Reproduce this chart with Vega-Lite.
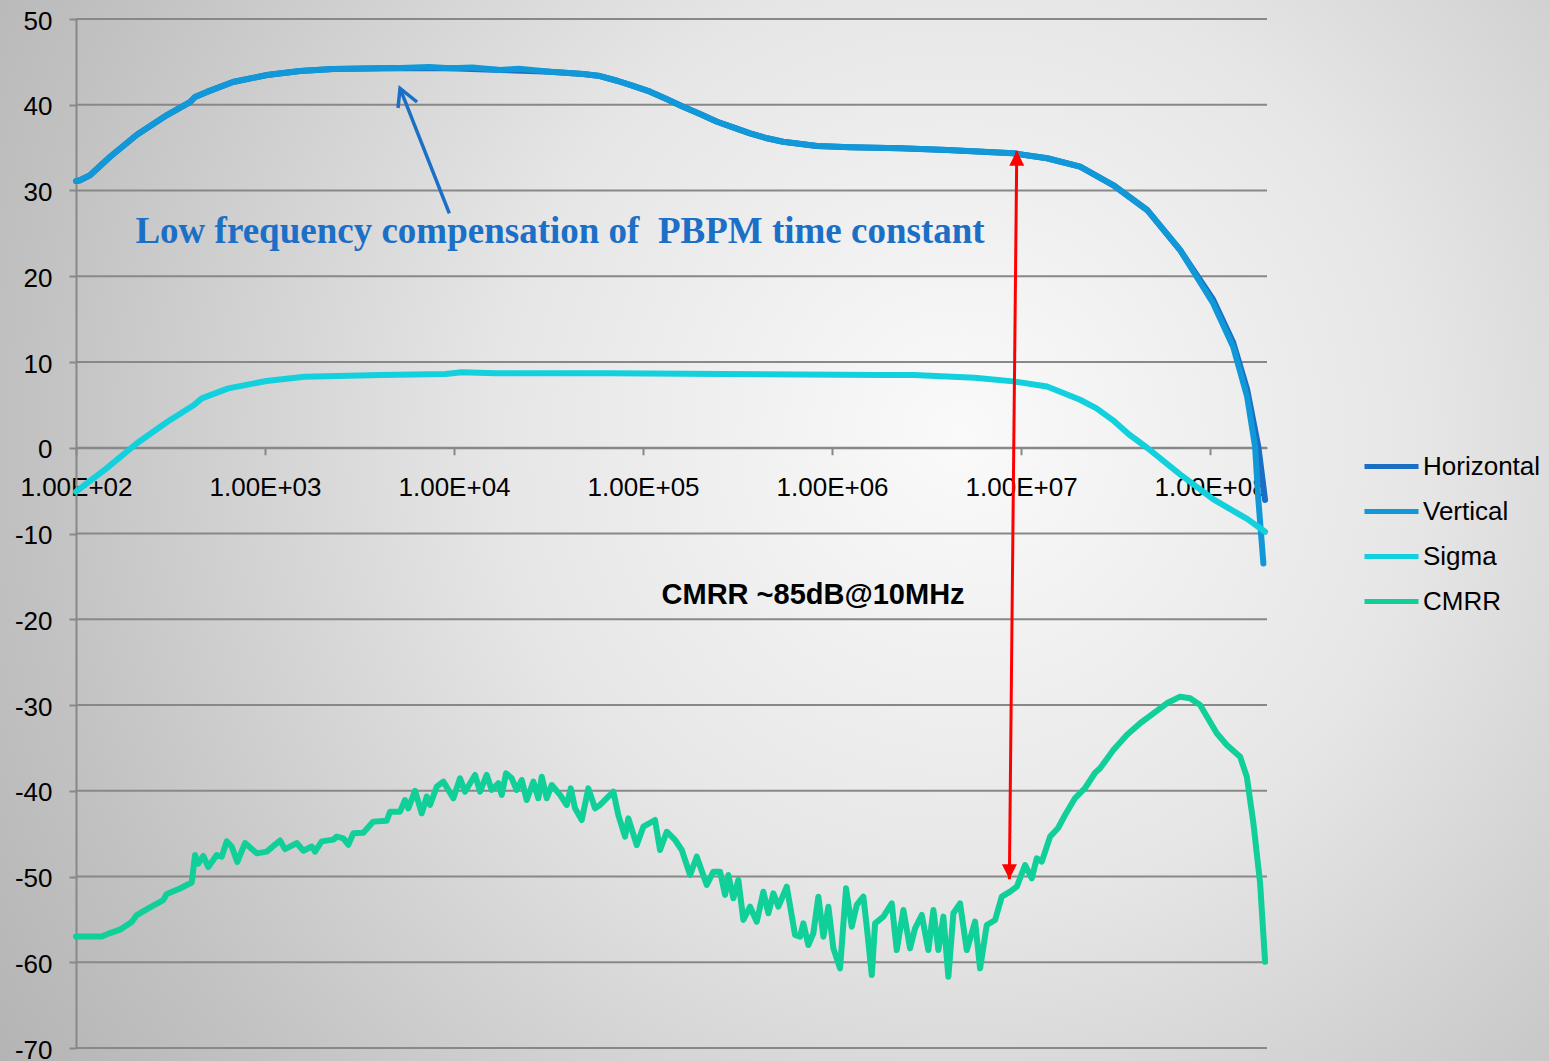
{
 "$schema": "https://vega.github.io/schema/vega-lite/v6.json",
 "width": 1549,
 "height": 1061,
 "autosize": {"type": "none"},
 "padding": 0,
 "background": "#bdbdbd",
 "config": {
  "view": {"stroke": null, "fill": {"gradient": "radial", "x1": 0.62, "y1": 0.44, "r1": 0, "x2": 0.62, "y2": 0.44, "r2": 1, "stops": [{"offset": 0, "color": "#fafafa"}, {"offset": 0.3, "color": "#e6e6e6"}, {"offset": 0.6, "color": "#c2c2c2"}, {"offset": 0.85, "color": "#a9a9a9"}]}},
  "font": "Liberation Sans"
 },
 "datasets": {
  "grid": [{"v": -70}, {"v": -60}, {"v": -50}, {"v": -40}, {"v": -30}, {"v": -20}, {"v": -10}, {"v": 0}, {"v": 10}, {"v": 20}, {"v": 30}, {"v": 40}, {"v": 50}],
  "curves": [
   {"s":"Horizontal","f":100,"v":31.1},{"s":"Horizontal","f":105,"v":31.2},{"s":"Horizontal","f":119,"v":31.8},{"s":"Horizontal","f":151,"v":33.9},{"s":"Horizontal","f":210,"v":36.5},{"s":"Horizontal","f":303,"v":38.8},{"s":"Horizontal","f":401,"v":40.3},{"s":"Horizontal","f":426,"v":40.9},{"s":"Horizontal","f":493,"v":41.5},{"s":"Horizontal","f":677,"v":42.65},{"s":"Horizontal","f":1025,"v":43.47},{"s":"Horizontal","f":1532,"v":43.94},{"s":"Horizontal","f":2290,"v":44.17},{"s":"Horizontal","f":5180,"v":44.29},{"s":"Horizontal","f":9524,"v":44.25},{"s":"Horizontal","f":17510,"v":44.05},{"s":"Horizontal","f":32200,"v":43.85},{"s":"Horizontal","f":48140,"v":43.59},{"s":"Horizontal","f":59230,"v":43.35},{"s":"Horizontal","f":72860,"v":42.8},{"s":"Horizontal","f":88540,"v":42.19},{"s":"Horizontal","f":108900,"v":41.52},{"s":"Horizontal","f":134000,"v":40.64},{"s":"Horizontal","f":162800,"v":39.77},{"s":"Horizontal","f":200300,"v":38.92},{"s":"Horizontal","f":246300,"v":38.02},{"s":"Horizontal","f":299400,"v":37.37},{"s":"Horizontal","f":368300,"v":36.67},{"s":"Horizontal","f":453100,"v":36.09},{"s":"Horizontal","f":550500,"v":35.69},{"s":"Horizontal","f":832800,"v":35.19},{"s":"Horizontal","f":1245000,"v":35.04},{"s":"Horizontal","f":2290000,"v":34.92},{"s":"Horizontal","f":4059000,"v":34.72},{"s":"Horizontal","f":9073000,"v":34.34},{"s":"Horizontal","f":13730000,"v":33.76},{"s":"Horizontal","f":20520000,"v":32.78},{"s":"Horizontal","f":30680000,"v":30.64},{"s":"Horizontal","f":46420000,"v":27.73},{"s":"Horizontal","f":69380000,"v":23.06},{"s":"Horizontal","f":103700000,"v":17.3},{"s":"Horizontal","f":132400000,"v":12.3},{"s":"Horizontal","f":157000000,"v":6.8},{"s":"Horizontal","f":180000000,"v":0.12},{"s":"Horizontal","f":195400000,"v":-6.1},
   {"s":"Vertical","f":100,"v":31.1},{"s":"Vertical","f":105,"v":31.2},{"s":"Vertical","f":119,"v":31.8},{"s":"Vertical","f":151,"v":33.9},{"s":"Vertical","f":210,"v":36.5},{"s":"Vertical","f":303,"v":38.8},{"s":"Vertical","f":401,"v":40.3},{"s":"Vertical","f":426,"v":40.9},{"s":"Vertical","f":493,"v":41.5},{"s":"Vertical","f":677,"v":42.65},{"s":"Vertical","f":1025,"v":43.47},{"s":"Vertical","f":1532,"v":43.94},{"s":"Vertical","f":2290,"v":44.17},{"s":"Vertical","f":5180,"v":44.29},{"s":"Vertical","f":7400,"v":44.4},{"s":"Vertical","f":9524,"v":44.25},{"s":"Vertical","f":12500,"v":44.35},{"s":"Vertical","f":17510,"v":44.05},{"s":"Vertical","f":22000,"v":44.2},{"s":"Vertical","f":32200,"v":43.85},{"s":"Vertical","f":48140,"v":43.59},{"s":"Vertical","f":59230,"v":43.35},{"s":"Vertical","f":72860,"v":42.8},{"s":"Vertical","f":88540,"v":42.19},{"s":"Vertical","f":108900,"v":41.52},{"s":"Vertical","f":134000,"v":40.64},{"s":"Vertical","f":162800,"v":39.77},{"s":"Vertical","f":200300,"v":38.92},{"s":"Vertical","f":246300,"v":38.02},{"s":"Vertical","f":299400,"v":37.37},{"s":"Vertical","f":368300,"v":36.67},{"s":"Vertical","f":453100,"v":36.09},{"s":"Vertical","f":550500,"v":35.69},{"s":"Vertical","f":832800,"v":35.19},{"s":"Vertical","f":1245000,"v":35.04},{"s":"Vertical","f":2290000,"v":34.92},{"s":"Vertical","f":4059000,"v":34.72},{"s":"Vertical","f":9073000,"v":34.34},{"s":"Vertical","f":13730000,"v":33.76},{"s":"Vertical","f":20520000,"v":32.78},{"s":"Vertical","f":30680000,"v":30.64},{"s":"Vertical","f":46420000,"v":27.73},{"s":"Vertical","f":69380000,"v":23.06},{"s":"Vertical","f":103700000,"v":16.85},{"s":"Vertical","f":132400000,"v":11.78},{"s":"Vertical","f":157000000,"v":5.95},{"s":"Vertical","f":173000000,"v":0.12},{"s":"Vertical","f":179500000,"v":-5.7},{"s":"Vertical","f":191400000,"v":-13.5},
   {"s":"Sigma","f":100,"v":-5.12},{"s":"Sigma","f":145,"v":-2.4},{"s":"Sigma","f":210,"v":0.52},{"s":"Sigma","f":304.5,"v":3.04},{"s":"Sigma","f":421,"v":4.99},{"s":"Sigma","f":462.6,"v":5.76},{"s":"Sigma","f":639.5,"v":6.93},{"s":"Sigma","f":1017,"v":7.78},{"s":"Sigma","f":1618,"v":8.29},{"s":"Sigma","f":4089,"v":8.48},{"s":"Sigma","f":9000,"v":8.6},{"s":"Sigma","f":11000,"v":8.8},{"s":"Sigma","f":16460,"v":8.68},{"s":"Sigma","f":66100,"v":8.68},{"s":"Sigma","f":423600,"v":8.57},{"s":"Sigma","f":1795000,"v":8.48},{"s":"Sigma","f":2709000,"v":8.48},{"s":"Sigma","f":5689000,"v":8.17},{"s":"Sigma","f":9073000,"v":7.74},{"s":"Sigma","f":13730000,"v":7.15},{"s":"Sigma","f":20520000,"v":5.6},{"s":"Sigma","f":25080000,"v":4.6},{"s":"Sigma","f":30680000,"v":3.2},{"s":"Sigma","f":37000000,"v":1.6},{"s":"Sigma","f":46420000,"v":0.0},{"s":"Sigma","f":69380000,"v":-3.1},{"s":"Sigma","f":103700000,"v":-6.0},{"s":"Sigma","f":157000000,"v":-8.3},{"s":"Sigma","f":195400000,"v":-9.79},
   {"s":"CMRR","f":100,"v":-57.0},{"s":"CMRR","f":136.8,"v":-57.0},{"s":"CMRR","f":151.3,"v":-56.6},{"s":"CMRR","f":170.9,"v":-56.2},{"s":"CMRR","f":197.1,"v":-55.3},{"s":"CMRR","f":209.5,"v":-54.5},{"s":"CMRR","f":246.4,"v":-53.6},{"s":"CMRR","f":289.6,"v":-52.75},{"s":"CMRR","f":301.9,"v":-52.05},{"s":"CMRR","f":355,"v":-51.4},{"s":"CMRR","f":409.5,"v":-50.7},{"s":"CMRR","f":426.3,"v":-47.5},{"s":"CMRR","f":443.8,"v":-48.5},{"s":"CMRR","f":471.6,"v":-47.6},{"s":"CMRR","f":501.2,"v":-48.9},{"s":"CMRR","f":555.2,"v":-47.5},{"s":"CMRR","f":590.1,"v":-47.7},{"s":"CMRR","f":627.2,"v":-45.9},{"s":"CMRR","f":666.5,"v":-46.5},{"s":"CMRR","f":713.6,"v":-48.3},{"s":"CMRR","f":784,"v":-46.1},{"s":"CMRR","f":904,"v":-47.3},{"s":"CMRR","f":1021,"v":-47.1},{"s":"CMRR","f":1200,"v":-45.8},{"s":"CMRR","f":1276,"v":-46.8},{"s":"CMRR","f":1472,"v":-46.1},{"s":"CMRR","f":1595,"v":-47.0},{"s":"CMRR","f":1767,"v":-46.5},{"s":"CMRR","f":1839,"v":-47.1},{"s":"CMRR","f":1995,"v":-45.9},{"s":"CMRR","f":2298,"v":-45.7},{"s":"CMRR","f":2396,"v":-45.35},{"s":"CMRR","f":2597,"v":-45.55},{"s":"CMRR","f":2758,"v":-46.3},{"s":"CMRR","f":2933,"v":-44.96},{"s":"CMRR","f":3313,"v":-44.9},{"s":"CMRR","f":3741,"v":-43.6},{"s":"CMRR","f":4405,"v":-43.5},{"s":"CMRR","f":4586,"v":-42.44},{"s":"CMRR","f":5180,"v":-42.44},{"s":"CMRR","f":5504,"v":-41.08},{"s":"CMRR","f":5730,"v":-42.05},{"s":"CMRR","f":6219,"v":-40.0},{"s":"CMRR","f":6747,"v":-42.63},{"s":"CMRR","f":7171,"v":-40.69},{"s":"CMRR","f":7465,"v":-41.66},{"s":"CMRR","f":8100,"v":-39.53},{"s":"CMRR","f":8779,"v":-38.94},{"s":"CMRR","f":9915,"v":-40.88},{"s":"CMRR","f":10760,"v":-38.55},{"s":"CMRR","f":11430,"v":-40.11},{"s":"CMRR","f":12920,"v":-38.16},{"s":"CMRR","f":13730,"v":-40.11},{"s":"CMRR","f":14890,"v":-38.16},{"s":"CMRR","f":15830,"v":-39.91},{"s":"CMRR","f":17160,"v":-39.13},{"s":"CMRR","f":17880,"v":-40.49},{"s":"CMRR","f":18840,"v":-37.97},{"s":"CMRR","f":20200,"v":-38.55},{"s":"CMRR","f":21460,"v":-39.91},{"s":"CMRR","f":22810,"v":-38.75},{"s":"CMRR","f":24240,"v":-41.08},{"s":"CMRR","f":26280,"v":-38.94},{"s":"CMRR","f":27930,"v":-40.88},{"s":"CMRR","f":29110,"v":-38.36},{"s":"CMRR","f":30940,"v":-40.88},{"s":"CMRR","f":32880,"v":-39.33},{"s":"CMRR","f":36380,"v":-40.49},{"s":"CMRR","f":39480,"v":-41.66},{"s":"CMRR","f":41450,"v":-39.72},{"s":"CMRR","f":43680,"v":-42.05},{"s":"CMRR","f":47390,"v":-43.41},{"s":"CMRR","f":51350,"v":-39.72},{"s":"CMRR","f":55720,"v":-42.05},{"s":"CMRR","f":59220,"v":-41.66},{"s":"CMRR","f":69660,"v":-40.11},{"s":"CMRR","f":74030,"v":-42.83},{"s":"CMRR","f":80310,"v":-45.35},{"s":"CMRR","f":83600,"v":-43.22},{"s":"CMRR","f":92610,"v":-46.33},{"s":"CMRR","f":100400,"v":-44.19},{"s":"CMRR","f":115700,"v":-43.41},{"s":"CMRR","f":123000,"v":-46.91},{"s":"CMRR","f":133500,"v":-44.78},{"s":"CMRR","f":147700,"v":-45.74},{"s":"CMRR","f":160300,"v":-46.91},{"s":"CMRR","f":177400,"v":-49.83},{"s":"CMRR","f":192400,"v":-47.69},{"s":"CMRR","f":217300,"v":-50.99},{"s":"CMRR","f":235500,"v":-49.44},{"s":"CMRR","f":255500,"v":-49.44},{"s":"CMRR","f":271600,"v":-52.15},{"s":"CMRR","f":282700,"v":-49.83},{"s":"CMRR","f":300500,"v":-52.54},{"s":"CMRR","f":319300,"v":-50.41},{"s":"CMRR","f":339400,"v":-55.07},{"s":"CMRR","f":368300,"v":-53.52},{"s":"CMRR","f":399600,"v":-55.27},{"s":"CMRR","f":433000,"v":-51.77},{"s":"CMRR","f":460300,"v":-54.29},{"s":"CMRR","f":489100,"v":-51.96},{"s":"CMRR","f":519900,"v":-53.52},{"s":"CMRR","f":575900,"v":-51.19},{"s":"CMRR","f":637100,"v":-56.82},{"s":"CMRR","f":677000,"v":-57.02},{"s":"CMRR","f":705000,"v":-55.46},{"s":"CMRR","f":749100,"v":-57.99},{"s":"CMRR","f":796200,"v":-56.62},{"s":"CMRR","f":846200,"v":-52.35},{"s":"CMRR","f":899500,"v":-57.02},{"s":"CMRR","f":956000,"v":-53.52},{"s":"CMRR","f":1016000,"v":-58.38},{"s":"CMRR","f":1102000,"v":-60.71},{"s":"CMRR","f":1186000,"v":-51.38},{"s":"CMRR","f":1271000,"v":-55.85},{"s":"CMRR","f":1351000,"v":-53.32},{"s":"CMRR","f":1464000,"v":-52.35},{"s":"CMRR","f":1526000,"v":-55.85},{"s":"CMRR","f":1622000,"v":-61.49},{"s":"CMRR","f":1689000,"v":-55.46},{"s":"CMRR","f":1868000,"v":-54.68},{"s":"CMRR","f":2069000,"v":-53.13},{"s":"CMRR","f":2199000,"v":-58.58},{"s":"CMRR","f":2384000,"v":-53.91},{"s":"CMRR","f":2586000,"v":-58.38},{"s":"CMRR","f":2749000,"v":-56.04},{"s":"CMRR","f":2982000,"v":-54.49},{"s":"CMRR","f":3232000,"v":-58.58},{"s":"CMRR","f":3436000,"v":-53.91},{"s":"CMRR","f":3651000,"v":-58.58},{"s":"CMRR","f":3881000,"v":-54.68},{"s":"CMRR","f":4124000,"v":-61.68},{"s":"CMRR","f":4384000,"v":-54.29},{"s":"CMRR","f":4755000,"v":-53.13},{"s":"CMRR","f":5160000,"v":-58.58},{"s":"CMRR","f":5710000,"v":-55.27},{"s":"CMRR","f":6069000,"v":-60.71},{"s":"CMRR","f":6584000,"v":-55.66},{"s":"CMRR","f":7286000,"v":-55.07},{"s":"CMRR","f":7906000,"v":-52.35},{"s":"CMRR","f":8747000,"v":-51.77},{"s":"CMRR","f":9489000,"v":-51.19},{"s":"CMRR","f":10500000,"v":-48.66},{"s":"CMRR","f":11390000,"v":-50.21},{"s":"CMRR","f":12110000,"v":-47.88},{"s":"CMRR","f":12870000,"v":-48.27},{"s":"CMRR","f":14240000,"v":-45.35},{"s":"CMRR","f":15700000,"v":-44.34},{"s":"CMRR","f":17090000,"v":-42.83},{"s":"CMRR","f":19310000,"v":-40.85},{"s":"CMRR","f":21810000,"v":-39.68},{"s":"CMRR","f":24630000,"v":-37.9},{"s":"CMRR","f":26180000,"v":-37.38},{"s":"CMRR","f":30780000,"v":-35.25},{"s":"CMRR","f":36250000,"v":-33.5},{"s":"CMRR","f":42630000,"v":-32.13},{"s":"CMRR","f":50120000,"v":-30.97},{"s":"CMRR","f":59010000,"v":-29.8},{"s":"CMRR","f":69380000,"v":-29.03},{"s":"CMRR","f":78390000,"v":-29.22},{"s":"CMRR","f":88540000,"v":-30.0},{"s":"CMRR","f":108500000,"v":-33.3},{"s":"CMRR","f":122600000,"v":-34.66},{"s":"CMRR","f":144100000,"v":-36.03},{"s":"CMRR","f":156400000,"v":-38.36},{"s":"CMRR","f":169500000,"v":-43.8},{"s":"CMRR","f":183900000,"v":-50.79},{"s":"CMRR","f":195400000,"v":-59.94}
  ]
 },
 "layer": [
  {
   "data": {"name": "grid"},
   "mark": {"type": "rule", "color": "#888888", "strokeWidth": 2},
   "encoding": {
    "y": {"field": "v", "type": "quantitative"},
    "x": {"datum": 100, "type": "quantitative"},
    "x2": {"datum": 200000000}
   }
  },
  {
   "data": {"name": "curves"},
   "mark": {"type": "line", "strokeWidth": 6, "strokeCap": "round", "strokeJoin": "round"},
   "encoding": {
    "x": {"field": "f", "type": "quantitative", "scale": {"type": "log", "domain": [100, 200000000], "range": [76, 1267], "nice": false},
     "axis": {"orient": "bottom", "offset": -613.25, "values": [100, 1000, 10000, 100000, 1000000, 10000000, 100000000], "labelExpr": "'1.00E+0' + round(log(datum.value)/LN10)", "title": null, "grid": false, "domain": true, "domainColor": "#888888", "domainWidth": 2, "ticks": true, "tickColor": "#888888", "tickWidth": 2, "tickSize": 7, "labelFont": "Liberation Sans", "labelFontSize": 26, "labelColor": "#000000", "labelBaseline": "alphabetic", "labelPadding": 41, "labelOverlap": false, "labelFlush": false, "labelBound": false}},
    "y": {"field": "v", "type": "quantitative", "scale": {"domain": [-70, 50], "range": [1048, 19], "nice": false, "zero": false},
     "axis": {"orient": "left", "offset": -76, "values": [-70, -60, -50, -40, -30, -20, -10, 0, 10, 20, 30, 40, 50], "labelExpr": "'' + datum.value", "title": null, "grid": false, "domain": true, "domainColor": "#888888", "domainWidth": 2, "ticks": true, "tickColor": "#888888", "tickWidth": 2, "tickSize": 7, "labelFont": "Liberation Sans", "labelFontSize": 26, "labelColor": "#000000", "labelPadding": 17, "labelOffset": 2, "labelOverlap": false, "labelFlush": false, "labelBound": false}},
    "color": {"field": "s", "type": "nominal", "scale": {"domain": ["Horizontal", "Vertical", "Sigma", "CMRR"], "range": ["#1a6ec4", "#1198d8", "#12d0dc", "#10cf98"]},
     "legend": {"orient": "none", "legendX": 1362, "legendY": 437, "direction": "vertical", "title": null, "symbolType": "stroke", "symbolSize": 2916, "symbolStrokeWidth": 5, "labelFont": "Liberation Sans", "labelFontSize": 26, "labelColor": "#000000", "labelOffset": 2, "rowPadding": 2, "padding": 0}},
    "order": {"field": "f", "type": "quantitative"}
   }
  },
  {
   "data": {"values": [{"f": 9489000, "v": 34.64, "f2": 8671000, "v2": -50.33}]},
   "mark": {"type": "rule", "color": "#ff0000", "strokeWidth": 3},
   "encoding": {"x": {"field": "f", "type": "quantitative"}, "y": {"field": "v", "type": "quantitative"}, "x2": {"field": "f2"}, "y2": {"field": "v2"}}
  },
  {
   "data": {"values": [{"f": 9489000, "v": 34.64}]},
   "mark": {"type": "point", "shape": "M0,0L1,2L-1,2Z", "size": 225, "filled": true, "color": "#ff0000", "opacity": 1},
   "encoding": {"x": {"field": "f", "type": "quantitative"}, "y": {"field": "v", "type": "quantitative"}}
  },
  {
   "data": {"values": [{"f": 8671000, "v": -50.33}]},
   "mark": {"type": "point", "shape": "M0,0L1,-2L-1,-2Z", "size": 225, "filled": true, "color": "#ff0000", "opacity": 1},
   "encoding": {"x": {"field": "f", "type": "quantitative"}, "y": {"field": "v", "type": "quantitative"}}
  },
  {
   "data": {"values": [{"f": 5180, "v": 41.92, "f2": 9443, "v2": 27.34}]},
   "mark": {"type": "rule", "color": "#1b6fc6", "strokeWidth": 3.5},
   "encoding": {"x": {"field": "f", "type": "quantitative"}, "y": {"field": "v", "type": "quantitative"}, "x2": {"field": "f2"}, "y2": {"field": "v2"}}
  },
  {
   "data": {"values": [{"f": 5180, "v": 41.92}]},
   "mark": {"type": "point", "shape": "M-0.27,2.63L0,0L2.27,1.83", "size": 225, "filled": false, "color": "#1b6fc6", "strokeWidth": 3.5, "opacity": 1},
   "encoding": {"x": {"field": "f", "type": "quantitative"}, "y": {"field": "v", "type": "quantitative"}}
  },
  {
   "data": {"values": [{"f": 36380, "v": 23.88, "label": "Low frequency compensation of \u00a0PBPM time constant"}]},
   "mark": {"type": "text", "font": "Liberation Serif", "fontWeight": "bold", "fontSize": 37, "color": "#1b6fc6", "align": "center", "baseline": "alphabetic"},
   "encoding": {"x": {"field": "f", "type": "quantitative"}, "y": {"field": "v", "type": "quantitative"}, "text": {"field": "label"}}
  },
  {
   "data": {"values": [{"f": 793600, "v": -18.22, "label": "CMRR ~85dB@10MHz"}]},
   "mark": {"type": "text", "font": "Liberation Sans", "fontWeight": "bold", "fontSize": 29, "color": "#000000", "align": "center", "baseline": "alphabetic"},
   "encoding": {"x": {"field": "f", "type": "quantitative"}, "y": {"field": "v", "type": "quantitative"}, "text": {"field": "label"}}
  }
 ]
}
